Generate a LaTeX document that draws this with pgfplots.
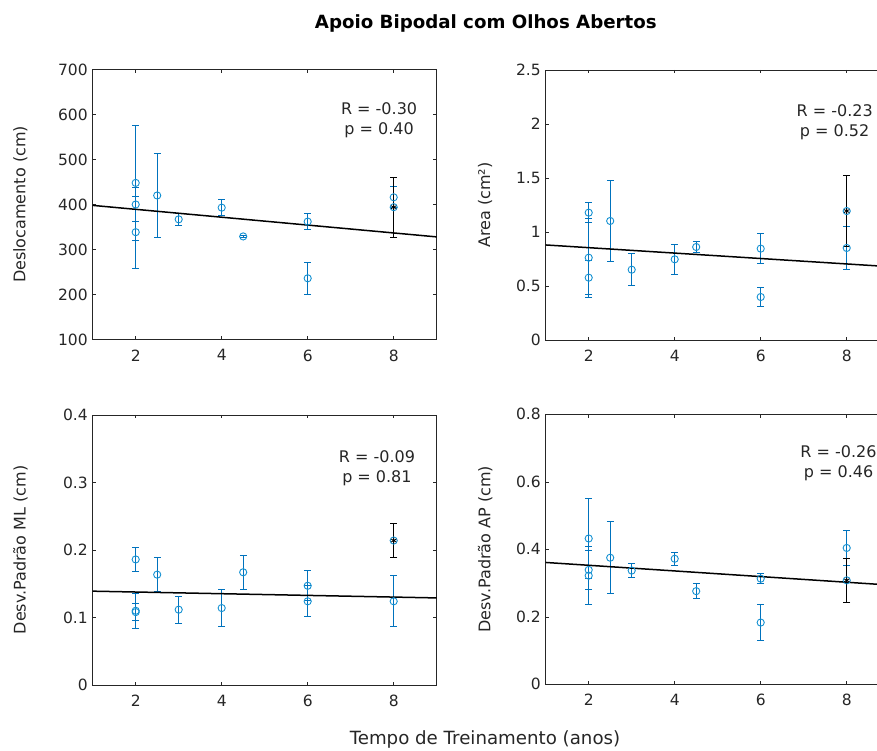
\documentclass[border=0pt]{standalone}
\usepackage{fontspec}
\setmainfont{DejaVu Sans}
\usepackage{pgfplots}
\pgfplotsset{compat=1.18}

\definecolor{mlblue}{RGB}{0,114,189}
\definecolor{circblue}{RGB}{20,145,210}
\definecolor{axgray}{RGB}{38,38,38}

\pgfplotsset{
  mlax/.style={
    scale only axis, width=344pt, height=270pt, anchor=south west,
    xmin=1, xmax=9, xtick={2,4,6,8},
    tick align=inside, major tick length=3.4pt,
    axis line style={axgray, line width=0.5pt},
    tick style={axgray, line width=0.5pt},
    /pgf/number format/assume math mode=true,
    ticklabel style={font=\fontsize{15.5}{18}\selectfont, text=axgray},
    xticklabel style={yshift=-6.5pt},
    yticklabel style={xshift=-1.5pt},
    label style={font=\fontsize{16}{19}\selectfont, text=axgray},
    ylabel style={at={(axis description cs:-0.21,0.5)}, anchor=center},
  },
  pts/.style={
    color=mlblue, only marks, mark=o, mark size=3.6pt, line width=1pt,
    mark options={draw=circblue, line width=0.9pt},
    error bars/y dir=both, error bars/y explicit,
    error bars/error bar style={draw=mlblue, line width=1pt},
    error bars/error mark options={draw=mlblue, rotate=90, mark size=3.4pt, line width=1pt},
  },
  meanpt/.style={
    color=black, only marks, mark=asterisk, mark size=3pt, line width=0.8pt,
    error bars/y dir=both, error bars/y explicit,
    error bars/error bar style={draw=black, line width=1pt},
    error bars/error mark options={draw=black, rotate=90, mark size=3.4pt, line width=1pt},
  },
  regline/.style={black, line width=1.5pt, no marks},
}
\tikzset{rp/.style={align=center, font=\fontsize{16}{20}\selectfont, text=axgray}}

\begin{document}
\begin{tikzpicture}
\path[use as bounding box, clip] (0pt,0pt) rectangle (877pt,751pt);

% Deslocamento
\begin{axis}[mlax, at={(92.7pt,411.5pt)}, ymin=100, ymax=700, ytick distance=100,
  ylabel={Deslocamento (cm)}]
\addplot[pts] coordinates {
  (2,448) +- (0,127)
  (2,400) +- (0,37)
  (2,338.5) +- (0,80)
  (2.5,420) +- (0,94)
  (3,367) +- (0,14)
  (4,393) +- (0,17)
  (4.5,329) +- (0,3)
  (6,362) +- (0,18)
  (6,236) +- (0,35)
  (8,416) +- (0,23)
  (8,394) +- (0,67)
};
\addplot[meanpt] coordinates {(8,394) +- (0,67)};
\addplot[regline] coordinates {(1,398) (9,328)};
\node[rp] at (axis cs:7.66,587) {R = -0.30\\p = 0.40};
\end{axis}

% Area
\begin{axis}[mlax, at={(545.7pt,411pt)}, ymin=0, ymax=2.5, ytick distance=0.5,
  ylabel={Area (cm²)}, ylabel style={at={(axis description cs:-0.176,0.5)}}]
\addplot[pts] coordinates {
  (2,1.179) +- (0,0.09)
  (2,0.762) +- (0,0.365)
  (2,0.577) +- (0,0.16)
  (2.5,1.102) +- (0,0.375)
  (3,0.651) +- (0,0.15)
  (4,0.747) +- (0,0.14)
  (4.5,0.861) +- (0,0.05)
  (6,0.846) +- (0,0.14)
  (6,0.398) +- (0,0.085)
  (8,0.852) +- (0,0.2)
  (8,1.194) +- (0,0.33)
};
\addplot[meanpt] coordinates {(8,1.194) +- (0,0.33)};
\addplot[regline] coordinates {(1,0.880) (9,0.679)};
\node[rp] at (axis cs:7.72,2.02) {R = -0.23\\p = 0.52};
\end{axis}

% Desv.Padrao ML
\begin{axis}[mlax, at={(92.7pt,66pt)}, ymin=0, ymax=0.4, ytick distance=0.1,
  ylabel={Desv.Padrão ML (cm)}]
\addplot[pts] coordinates {
  (2,0.186) +- (0,0.018)
  (2,0.110) +- (0,0.026)
  (2,0.108) +- (0,0.012)
  (2.5,0.1635) +- (0,0.025)
  (3,0.1116) +- (0,0.02)
  (4,0.114) +- (0,0.027)
  (4.5,0.167) +- (0,0.025)
  (6,0.147) +- (0,0.022)
  (6,0.124) +- (0,0.023)
  (8,0.124) +- (0,0.038)
  (8,0.214) +- (0,0.025)
};
\addplot[meanpt] coordinates {(8,0.214) +- (0,0.025)};
\addplot[regline] coordinates {(1,0.139) (9,0.129)};
\node[rp] at (axis cs:7.61,0.321) {R = -0.09\\p = 0.81};
\end{axis}

% Desv.Padrao AP
\begin{axis}[mlax, at={(545.7pt,66.7pt)}, ymin=0, ymax=0.8, ytick distance=0.2,
  ylabel={Desv.Padrão AP (cm)}, ylabel style={at={(axis description cs:-0.176,0.5)}}]
\addplot[pts] coordinates {
  (2,0.432) +- (0,0.118)
  (2,0.339) +- (0,0.057)
  (2,0.322) +- (0,0.087)
  (2.5,0.375) +- (0,0.107)
  (3,0.337) +- (0,0.022)
  (4,0.372) +- (0,0.019)
  (4.5,0.276) +- (0,0.023)
  (6,0.313) +- (0,0.015)
  (6,0.183) +- (0,0.052)
  (8,0.404) +- (0,0.052)
  (8,0.308) +- (0,0.066)
};
\addplot[meanpt] coordinates {(8,0.308) +- (0,0.066)};
\addplot[regline] coordinates {(1,0.361) (9,0.294)};
\node[rp] at (axis cs:7.81,0.655) {R = -0.26\\p = 0.46};
\end{axis}

\node[anchor=base, font=\bfseries\fontsize{18.2}{21}\selectfont] at (485.8pt,722pt) {Apoio Bipodal com Olhos Abertos};
\node[anchor=base, font=\fontsize{18.2}{21}\selectfont, text=axgray] at (485pt,6.5pt) {Tempo de Treinamento (anos)};
\end{tikzpicture}
\end{document}
